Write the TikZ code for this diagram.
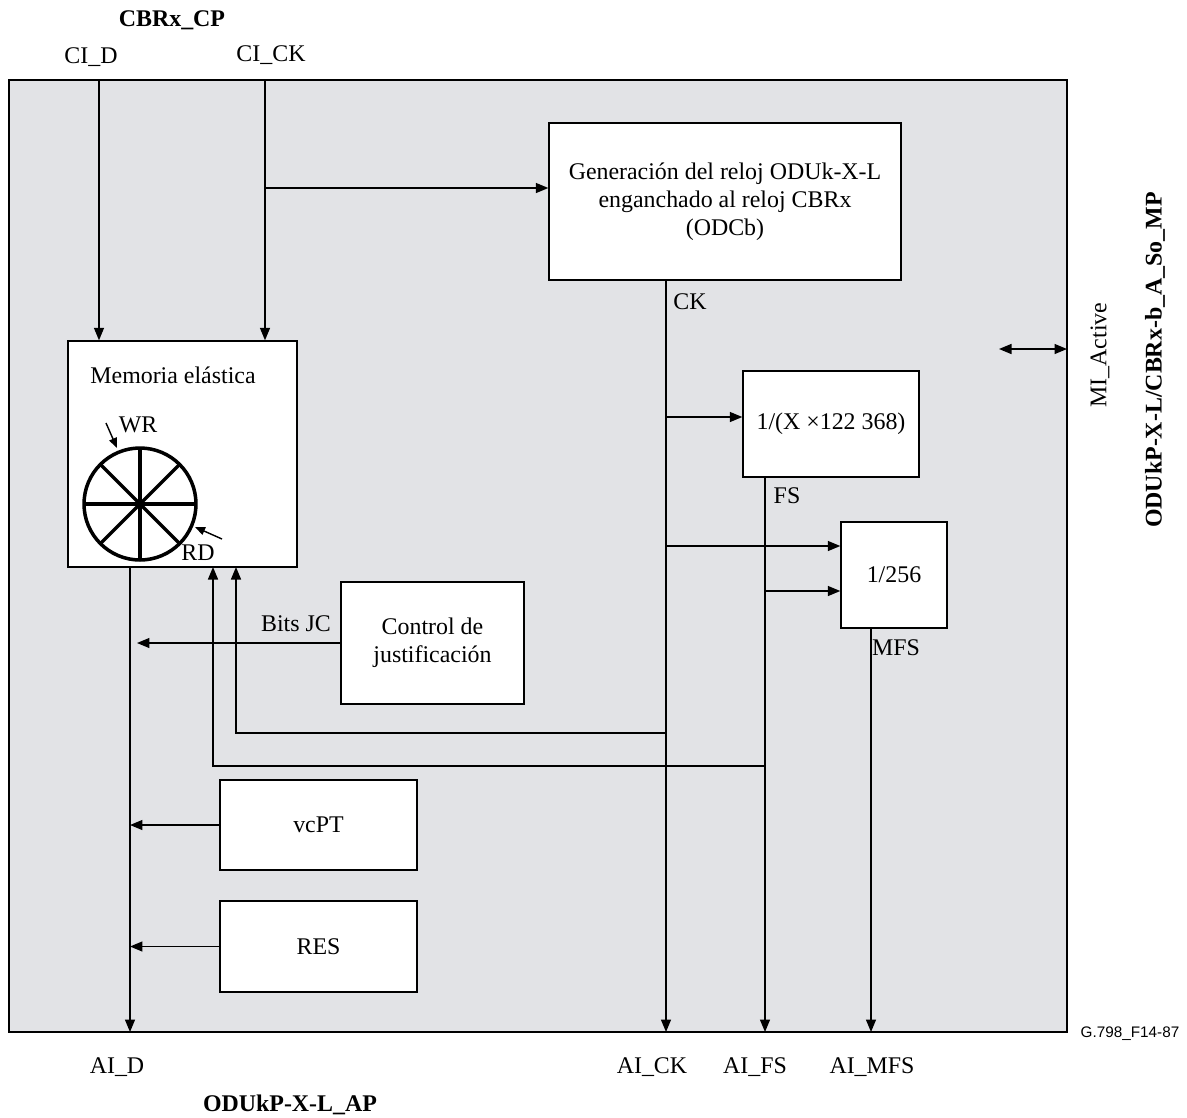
\documentclass[tikz,border=0pt]{standalone}
\usepackage{fontspec}
\setmainfont{Liberation Serif}
\newfontfamily\figsans{Liberation Sans}
\definecolor{panel}{RGB}{226,227,230}
\usetikzlibrary{arrows.meta, positioning, calc}

\begin{document}
\begin{tikzpicture}[x=0.02cm, y=-0.02cm,
    every node/.style={font=\fontsize{13.6}{16}\selectfont},
    block/.style={draw, fill=white, line width=0.8pt, inner sep=2pt, align=center},
    sig/.style={line width=0.8pt, -{Triangle[length=0.25cm, width=0.2cm]}},
    wire/.style={line width=0.8pt},
    ttl/.style={font=\fontsize{13.6}{16}\selectfont\bfseries}]
\useasboundingbox (0,0) rectangle (1187,1117);
% Outer frame
\draw[fill=panel, line width=0.8pt] (9,80) coordinate (fnw) rectangle (1067,1032) coordinate (fse);
% Blocks
\node[block, minimum width=7.04cm, minimum height=3.14cm] (gen) at (725,201.5)
  {Generación del reloj ODUk-X-L\\enganchado al reloj CBRx\\(ODCb)};
\node[block, minimum width=4.58cm, minimum height=4.52cm] (mem) at (182.5,454) {};
\node (memtxt) at (173,375) {Memoria elástica};
\node[block, minimum width=3.52cm, minimum height=2.12cm] (div) at (831,424) {1/(X ×122 368)};
\node[block, minimum width=2.12cm, minimum height=2.12cm] (mfd) at (894,575) {1/256};
\node[block, minimum width=3.66cm, minimum height=2.44cm] (jc) at (432.5,643)
  {Control de\\justificación};
\node[block, minimum width=3.94cm, minimum height=1.8cm] (vcpt) at (318.5,825) {vcPT};
\node[block, minimum width=3.94cm, minimum height=1.82cm] (res) at (318.5,946.5) {RES};
% Elastic store wheel
\draw[line width=2pt] (140,504) coordinate (whc) circle [radius=1.12cm];
\foreach \a in {0,45,...,135}
  \draw[line width=2pt] ($(whc)+(\a:1.12cm)$) -- ($(whc)+(\a+180:1.12cm)$);
\node (wr) at (138,425) {WR};
\node (rd) at (198,553) {RD};
\draw[line width=0.8pt, -{Triangle[length=0.2cm, width=0.16cm]}] (106,423) -- (117,448);
\draw[line width=0.8pt, -{Triangle[length=0.2cm, width=0.16cm]}] (222,539) -- (195,527);
% Ports
\node[ttl] (cbrcp) at (172,20) {CBRx\_CP};
\node (cid) at (91,57) {CI\_D};
\node (cick) at (271,55) {CI\_CK};
\coordinate (cidin) at (99,80);
\coordinate (cickin) at (265,80);
\coordinate (ckbr) at (265,188);
\draw[sig] (cidin) -- (cidin |- mem.north);
\draw[sig] (cickin) -- (cickin |- mem.north);
\draw[sig] (ckbr) -- (ckbr -| gen.west);
% Clock, frame and multiframe lines
\coordinate (ckout) at (666,280);
\coordinate (fsout) at (765,477);
\coordinate (mfsout) at (871,628);
\draw[sig] (ckout) -- (ckout |- fse);
\draw[sig] (fsout) -- (fsout |- fse);
\draw[sig] (mfsout) -- (mfsout |- fse);
\node (ck) at (690,302) {CK};
\node (fs) at (787,496) {FS};
\node (mfs) at (896,648) {MFS};
\draw[sig] (666,417) -- (div.west |- 0,417);
\draw[sig] (666,546) -- (mfd.west |- 0,546);
\draw[sig] (765,591) -- (mfd.west |- 0,591);
% Feedback to elastic store
\draw[sig] (666,733) -- (236,733) -- (236,567);
\draw[sig] (765,766) -- (213,766) -- (213,567);
% Data path
\coordinate (aidout) at (130,567);
\draw[sig] (aidout) -- (aidout |- fse);
\draw[sig] (jc.west) -- (137,643);
\node (bitsjc) at (296,624) {Bits JC};
\draw[sig] (vcpt.west) -- (130,825);
\draw[sig] (res.west) -- (130,946.5);
% Management point
\draw[line width=0.8pt, {Triangle[length=0.25cm, width=0.2cm]}-{Triangle[length=0.25cm, width=0.2cm]}] (999,349) -- (1067,349);
\node[rotate=90] (mia) at (1100,355) {MI\_Active};
\node[ttl, rotate=90] (mpname) at (1155,360) {ODUkP-X-L/CBRx-b\_A\_So\_MP};
% Adapted information
\node (aid) at (117,1067) {AI\_D};
\node (aick) at (652,1067) {AI\_CK};
\node (aifs) at (755,1067) {AI\_FS};
\node (aimfs) at (872,1067) {AI\_MFS};
\node[ttl] (apname) at (290,1105) {ODUkP-X-L\_AP};
\node[font=\figsans\fontsize{8.7}{10}\selectfont] (figid) at (1130,1034) {G.798\_F14-87};
\end{tikzpicture}
\end{document}
